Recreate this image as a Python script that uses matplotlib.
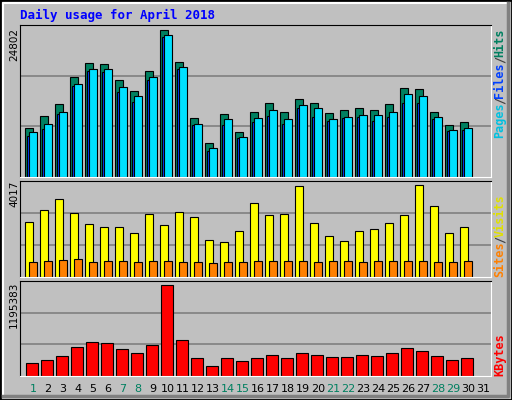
import matplotlib.pyplot as plt
import numpy as np

days = np.arange(1, 32)
hits = [8303, 10322, 12342, 16886, 19242, 19074, 16381, 14530, 17896, 24802,
        19411, 9986, 5778, 10659, 7630, 10996, 12510, 10996, 13184, 12510,
        10827, 11332, 11669, 11332, 12342, 15035, 14867, 10996, 8808, 9313]
files = [7630, 8976, 10996, 15708, 18233, 18233, 15203, 13688, 16886, 23843,
         18569, 8976, 4937, 9818, 6788, 9986, 11332, 9818, 12174, 11669,
         9818, 10154, 10491, 10491, 10996, 14025, 13688, 10154, 7966, 8303]
pages = [6956, 8135, 10659, 15371, 17896, 17728, 14362, 12679, 16381, 23618,
         18233, 8808, 4432, 8808, 6620, 9313, 10322, 8976, 11669, 10154,
         9481, 9986, 10154, 9481, 10154, 12510, 12510, 9818, 7798, 7966]
visits = [2407, 2929, 3408, 2799, 2320, 2190, 2190, 1929, 2755, 2277,
          2842, 2625, 1624, 1537, 2016, 3234, 2712, 2755, 3973, 2364,
          1798, 1581, 2016, 2103, 2364, 2712, 4017, 3103, 1929, 2190]
sites = [667, 710, 754, 798, 667, 710, 710, 667, 710, 710,
         667, 667, 624, 667, 667, 710, 710, 710, 710, 667,
         710, 710, 667, 710, 710, 710, 710, 667, 667, 710]
kbytes = [174500, 213800, 266100, 383900, 449400, 436300, 357800, 305400, 410100, 1195383,
          475600, 240000, 135300, 240000, 200700, 240000, 279200, 240000, 305400, 279200,
          253100, 253100, 279200, 266100, 305400, 370800, 331600, 266100, 213800, 240000]
weekend = [1, 7, 8, 14, 15, 21, 22, 28, 29]

W, H = 512, 400
fig = plt.figure(figsize=(5.12, 4.0), dpi=100, facecolor='#C0C0C0')

def px_axes(top, bottom, left=20, right=491):
    return fig.add_axes([left / W, 1 - bottom / H, (right - left) / W, (bottom - top) / H])

def style(ax, ymax, frac):
    ax.set_facecolor('#C0C0C0')
    ax.set_xlim(-0.333, 31.07)
    ax.set_ylim(0, ymax * frac)
    ax.set_xticks([]); ax.set_yticks([])
    for s in ['left', 'top']:
        ax.spines[s].set_color('black')
    for s in ['right', 'bottom']:
        ax.spines[s].set_color('white')
    for f in (1/3, 2/3):
        ax.axhline(f * ax.get_ylim()[1], color='#808080', lw=1.2, zorder=0)

x = np.arange(30)
ek = dict(edgecolor='black', linewidth=0.8, align='edge')

ax1 = px_axes(25, 177)
style(ax1, max(hits), 152 / 147.4)
ax1.bar(x, hits, 0.55, color='#008060', **ek)
ax1.bar(x + 0.13, pages, 0.5, color='#0040FF', **ek)
ax1.bar(x + 0.29, files, 0.5, color='#00E0FF', **ek)

ax2 = px_axes(181, 277)
style(ax2, max(visits), 96 / 92.4)
ax2.bar(x, visits, 0.53, color='#FFFF00', **ek)
ax2.bar(x + 0.27, sites, 0.53, color='#FF8000', **ek)

ax3 = px_axes(281, 376)
style(ax3, max(kbytes), 95 / 91.3)
ax3.bar(x + 0.07, kbytes, 0.8, color='#FF0000', **ek)

def ft(xp, yp, s, **kw):
    fig.text(xp / W, 1 - yp / H, s, **kw)

ft(20, 15, 'Daily usage for April 2018', color='#0000FF', family='DejaVu Sans Mono',
   weight='bold', fontsize=9, va='center')

ylab = dict(rotation=90, fontsize=7.5, va='top', ha='center', color='black')
ft(14, 28, str(max(hits)), **ylab)
ft(14, 181, str(max(visits)), **ylab)
ft(14, 282, str(max(kbytes)), **ylab)

mono = dict(rotation=90, family='DejaVu Sans Mono', weight='bold', fontsize=8.5,
            ha='center', va='bottom')
ft(500, 138, 'Pages', color='#00C0E0', **mono)
ft(500, 104, '/', color='#404040', **mono)
ft(500, 98, 'Files', color='#0040FF', **mono)
ft(500, 63, '/', color='#404040', **mono)
ft(500, 57, 'Hits', color='#008060', **mono)
ft(500, 277, 'Sites', color='#FF8000', **mono)
ft(500, 243, '/', color='#404040', **mono)
ft(500, 237, 'Visits', color='#E0E000', **mono)
ft(500, 376, 'KBytes', color='#FF0000', **mono)

for d in days:
    xp = 25 + 15 * (d - 1) + 8
    ft(xp, 389, str(d), color='#008060' if d in weekend else 'black',
       fontsize=8, ha='center', va='center')

# bevelled frame
fig.add_artist(plt.Rectangle((0, 0), 1, 1, transform=fig.transFigure, fill=False,
                             edgecolor='black', lw=2))
fig.add_artist(plt.Line2D([3 / W, 3 / W, 1 - 5 / W], [5 / H, 1 - 3 / H, 1 - 3 / H],
                          transform=fig.transFigure, color='white', lw=1.5))
fig.add_artist(plt.Line2D([3 / W, 1 - 4 / W, 1 - 4 / W], [4 / H, 4 / H, 1 - 3 / H],
                          transform=fig.transFigure, color='#808080', lw=2.5))

fig.savefig('out.png', dpi=100, facecolor=fig.get_facecolor())
